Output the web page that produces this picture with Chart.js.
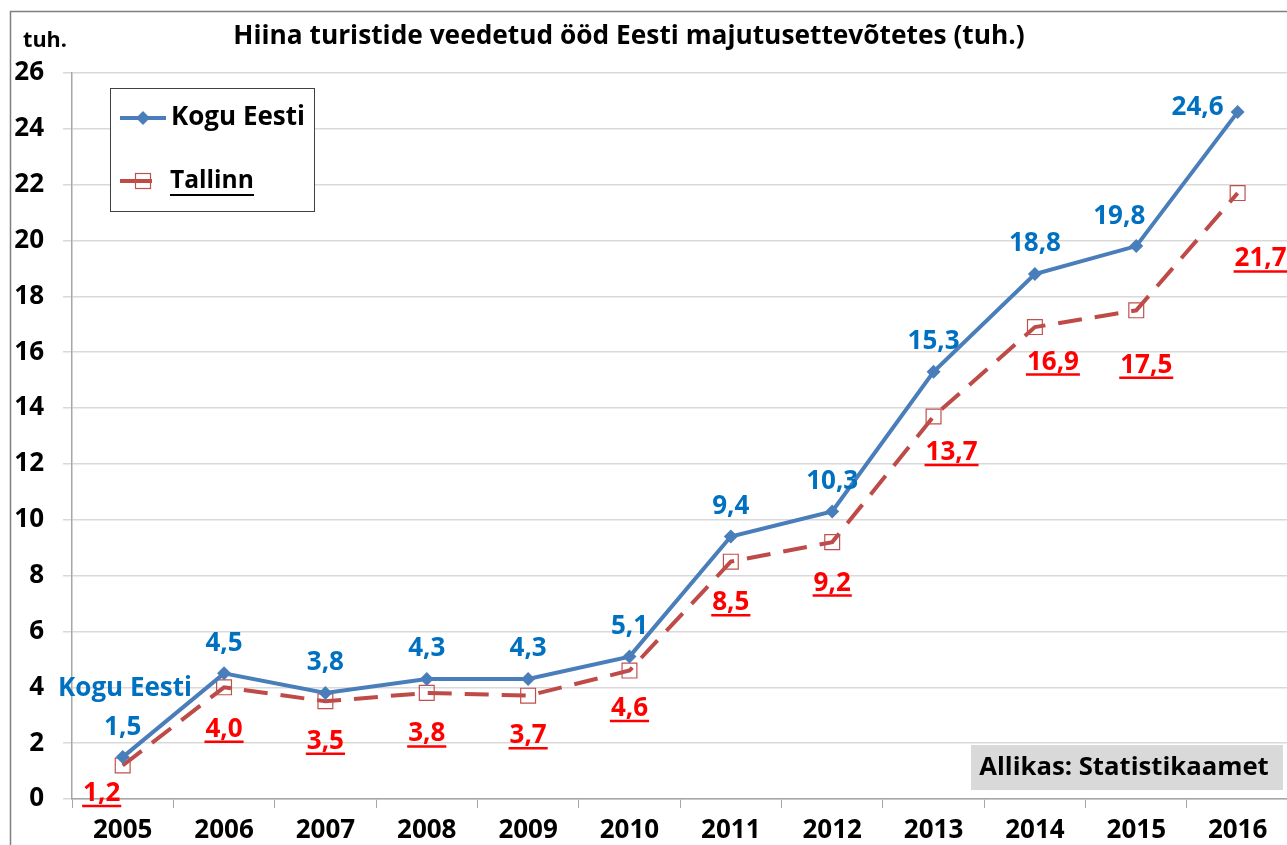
<!DOCTYPE html>
<html>
<head>
<meta charset="utf-8">
<script src="https://cdn.jsdelivr.net/npm/chart.js@4/dist/chart.umd.min.js"></script>
<style>
  html, body { margin: 0; padding: 0; background: #fff; overflow: hidden; }
  #wrap { width: 1300px; height: 845px; }
</style>
</head>
<body>
<div id="wrap"><canvas id="chart" width="1300" height="845"></canvas></div>
<script>
// data
const years     = ['2005','2006','2007','2008','2009','2010','2011','2012','2013','2014','2015','2016'];
const koguEesti = [1.5, 4.5, 3.8, 4.3, 4.3, 5.1, 9.4, 10.3, 15.3, 18.8, 19.8, 24.6];
const tallinn   = [1.2, 4.0, 3.5, 3.8, 3.7, 4.6, 8.5, 9.2, 13.7, 16.9, 17.5, 21.7];
const yTicks    = [0, 2, 4, 6, 8, 10, 12, 14, 16, 18, 20, 22, 24, 26];

const FONT  = '"Open Sans", Lato, sans-serif';
const BLUE  = '#4a7ebb';
const RED   = '#be4b48';

// label nudges (dx, dy from point)
const blueShift = years.map((_, i) => i === 11 ? [-40, -4] : (i === 10 ? [-17, -30] : [0, -30]));
const redShift  = [[-21, 28], [0, 42], [0, 40], [0, 41], [0, 40], [0, 38], [0, 41], [0, 41], [18, 36], [18, 35], [10, 55], [23, 66]];

const fmt = v => v.toFixed(1).replace('.', ',');

// draw text scaled to a given width
function fitText(ctx, text, x, y, width) {
  ctx.font = 'bold 20px ' + FONT;
  const size = 20 * width / ctx.measureText(text).width;
  ctx.font = 'bold ' + size.toFixed(1) + 'px ' + FONT;
  ctx.fillText(text, x, y);
}

const extras = {
  id: 'extras',
  beforeDraw(chart) {
    const ctx = chart.ctx;
    ctx.save();
    ctx.fillStyle = '#fff';
    ctx.fillRect(0, 0, chart.width, chart.height);
    ctx.strokeStyle = '#7f7f7f';
    ctx.lineWidth = 1.5;
    ctx.strokeRect(10.5, 11.5, 3000, 3000);
    ctx.restore();
  },
  afterDatasetsDraw(chart) {
    const ctx = chart.ctx;
    ctx.save();
    ctx.textAlign = 'center';
    ctx.textBaseline = 'middle';

    // title + unit
    ctx.fillStyle = '#000';
    fitText(ctx, 'Hiina turistide veedetud ööd Eesti majutusettevõtetes (tuh.)', 629, 37, 792);
    fitText(ctx, 'tuh.', 45, 41, 44);

    // value labels
    ctx.font = 'bold 26px ' + FONT;
    const m0 = chart.getDatasetMeta(0).data;
    const m1 = chart.getDatasetMeta(1).data;
    ctx.fillStyle = '#0070c0';
    koguEesti.forEach((v, i) => {
      ctx.fillText(fmt(v), m0[i].x + blueShift[i][0], m0[i].y + blueShift[i][1]);
    });
    ctx.fillStyle = '#ff0000';
    ctx.strokeStyle = '#ff0000';
    ctx.lineWidth = 2.5;
    tallinn.forEach((v, i) => {
      const x = m1[i].x + redShift[i][0], y = m1[i].y + redShift[i][1];
      const t = fmt(v);
      ctx.fillText(t, x, y);
      const w = ctx.measureText(t).width;
      ctx.beginPath();
      ctx.moveTo(x - w / 2 - 1, y + 12.5);
      ctx.lineTo(x + w / 2 + 1, y + 12.5);
      ctx.stroke();
    });

    // series note
    ctx.fillStyle = '#0070c0';
    fitText(ctx, 'Kogu Eesti', 125, 689, 134);

    // source box
    ctx.fillStyle = '#d9d9d9';
    ctx.fillRect(971, 745, 312, 45);
    ctx.fillStyle = '#000';
    fitText(ctx, 'Allikas: Statistikaamet', 1124, 768, 290);

    // legend
    ctx.fillStyle = '#fff';
    ctx.fillRect(110, 88, 204, 123);
    ctx.strokeStyle = '#404040';
    ctx.lineWidth = 1;
    ctx.strokeRect(110.5, 88.5, 204, 123);

    ctx.strokeStyle = BLUE;
    ctx.lineWidth = 4;
    ctx.beginPath(); ctx.moveTo(120, 118); ctx.lineTo(166, 118); ctx.stroke();
    ctx.fillStyle = BLUE;
    ctx.beginPath();
    ctx.moveTo(143, 111); ctx.lineTo(150, 118); ctx.lineTo(143, 125); ctx.lineTo(136, 118);
    ctx.closePath(); ctx.fill();

    ctx.strokeStyle = RED;
    ctx.beginPath(); ctx.moveTo(120, 181); ctx.lineTo(152, 181); ctx.stroke();
    ctx.lineWidth = 1.2;
    ctx.strokeStyle = '#c0504d';
    ctx.strokeRect(135.5, 173.5, 15, 15);

    ctx.fillStyle = '#000';
    ctx.textAlign = 'left';
    fitText(ctx, 'Kogu Eesti', 171, 118, 134);
    fitText(ctx, 'Tallinn', 170, 181, 84);
    ctx.lineWidth = 2;
    ctx.strokeStyle = '#000';
    ctx.beginPath(); ctx.moveTo(170, 195); ctx.lineTo(254, 195); ctx.stroke();
    ctx.restore();
  }
};

new Chart(document.getElementById('chart'), {
  type: 'line',
  data: {
    labels: years,
    datasets: [
      {
        label: 'Kogu Eesti',
        data: koguEesti,
        borderColor: BLUE,
        backgroundColor: BLUE,
        borderWidth: 4,
        pointStyle: 'rectRot',
        pointRadius: 7,
        pointBorderWidth: 0,
        tension: 0
      },
      {
        label: 'Tallinn',
        data: tallinn,
        borderColor: RED,
        backgroundColor: 'rgba(0,0,0,0)',
        borderWidth: 4,
        borderDash: [24, 13],
        pointStyle: 'rect',
        pointRadius: 10.5,
        pointBorderWidth: 1.2,
        pointBorderColor: '#c0504d',
        pointBackgroundColor: 'rgba(0,0,0,0)',
        tension: 0
      }
    ]
  },
  options: {
    responsive: false,
    animation: false,
    devicePixelRatio: 1,
    layout: { padding: { top: 73, right: 7, left: 0, bottom: 0 } },
    plugins: { legend: { display: false }, title: { display: false }, tooltip: { enabled: false } },
    scales: {
      x: {
        offset: true,
        afterFit: s => { s.height = 46; },
        grid: { drawOnChartArea: false, offset: true, tickLength: 9, color: '#a6a6a6' },
        border: { color: '#a6a6a6', width: 1.5 },
        ticks: { color: '#000', font: { family: FONT, size: 26, weight: 'bold' }, padding: 7, maxRotation: 0, autoSkip: false }
      },
      y: {
        min: 0,
        max: 26,
        afterFit: s => { s.width = 72; },
        afterBuildTicks: s => { s.ticks = yTicks.map(v => ({ value: v })); },
        grid: { color: '#d9d9d9', lineWidth: 1.5, tickLength: 9 },
        border: { color: '#a6a6a6', width: 1.5 },
        ticks: { color: '#000', font: { family: FONT, size: 26, weight: 'bold' }, padding: 19 }
      }
    }
  },
  plugins: [extras]
});
</script>
</body>
</html>
